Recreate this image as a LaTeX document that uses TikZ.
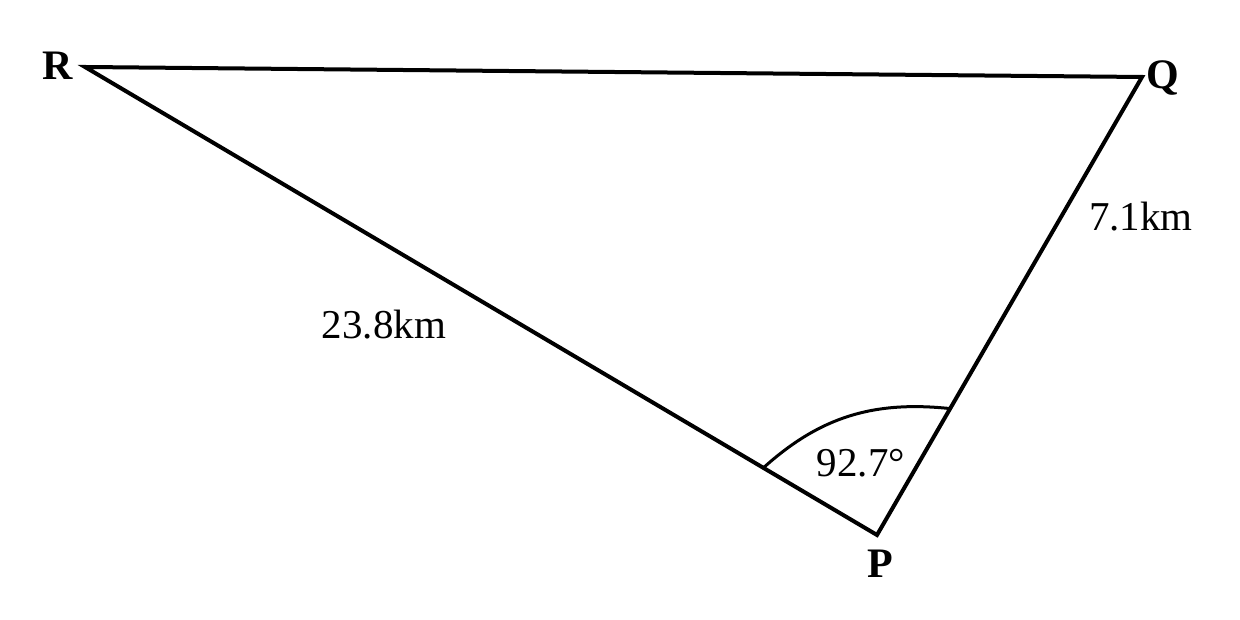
\documentclass[tikz,border=0pt]{standalone}
\usepackage{fontspec}
\setmainfont{Liberation Serif}
\usetikzlibrary{calc,positioning}
\tikzset{
    side/.style={
           draw=black, line width=2pt,
           line join=miter,
           },
    vertex/.style={
           font=\fontsize{21}{24}\selectfont\bfseries,
           inner sep=0pt,
           },
    length/.style={
           font=\fontsize{20.5}{24}\selectfont,
           inner sep=0pt,
           },
}

\begin{document}
\begin{tikzpicture}[x=0.5pt,y=0.5pt]
    \useasboundingbox (0,0) rectangle (1240,620);
    % corners of the triangle
    \coordinate (R) at (85,553);
    \coordinate (Q) at (1142,543);
    \coordinate (P) at (877,85);

    % names of the corners
    \node[vertex] (LBL_R) at (58,554) {R};
    \node[vertex] (LBL_Q) at (1163,542) {Q};
    \node[vertex] (LBL_P) at (880,56) {P};

    % lengths and angle
    \node[length] (LEN_PQ) at (1141,403) {7.1km};
    \node[length] (LEN_PR) at (384,295) {23.8km};
    \node[length] (ANG_P) at (861,157) {92.7°};

    % sides of the triangle
    \draw[side] (R) -- (Q) -- (P) -- cycle;

    % arc for the angle at P
    \coordinate (ARC_R) at ($(P)!0.1435!(R)$);
    \coordinate (ARC_Q) at ($(P)!0.276!(Q)$);
    \draw[side, line width=1.5pt] (ARC_R) to[out=42, in=174] (ARC_Q);
\end{tikzpicture}
\end{document}
